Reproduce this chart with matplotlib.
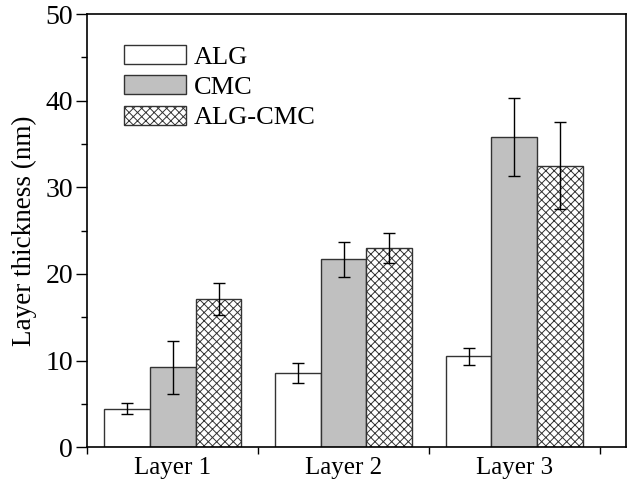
import numpy as np
import matplotlib.pyplot as plt
from matplotlib.ticker import MultipleLocator

# --- data ---
layers = ["Layer 1", "Layer 2", "Layer 3"]
alg = [4.45, 8.6, 10.5]
alg_err = [0.6, 1.15, 1.0]
cmc = [9.2, 21.7, 35.8]
cmc_err = [3.1, 2.0, 4.5]
algcmc = [17.1, 23.0, 32.5]
algcmc_err = [1.85, 1.7, 5.0]

plt.rcParams['font.family'] = ['Liberation Serif', 'DejaVu Serif']
plt.rcParams['hatch.color'] = '#555555'
plt.rcParams['hatch.linewidth'] = 0.7

fig = plt.figure(figsize=(6.3, 4.86), dpi=100)
ax = fig.add_axes([0.138, 0.080, 0.856, 0.891])

x = np.arange(1, len(layers) + 1)
w = 0.268
err_kw = dict(ecolor='black', elinewidth=1.0, capsize=4, capthick=1.0)

ax.bar(x - w, alg, w, yerr=alg_err, color='white', edgecolor='#333333',
       linewidth=1.0, label='ALG', error_kw=err_kw, zorder=2)
ax.bar(x, cmc, w, yerr=cmc_err, color='#c0c0c0', edgecolor='#333333',
       linewidth=1.0, label='CMC', error_kw=err_kw, zorder=2)
ax.bar(x + w, algcmc, w, yerr=algcmc_err, color='white', edgecolor='#333333',
       hatch='xxxx', linewidth=1.0, label='ALG-CMC', error_kw=err_kw, zorder=2)

ax.set_xlim(0.497, 3.655)
ax.set_ylim(0, 50)
ax.set_xticks(x)
ax.set_xticklabels(layers)
ax.set_xticks([0.5, 1.5, 2.5, 3.5], minor=True)
ax.tick_params(axis='x', which='major', length=0, labelsize=18, pad=7)
ax.tick_params(axis='x', which='minor', direction='out', length=5, width=1)
ax.yaxis.set_major_locator(MultipleLocator(10))
ax.yaxis.set_minor_locator(MultipleLocator(5))
ax.tick_params(axis='y', which='major', direction='out', length=8, width=1,
               labelsize=20, pad=2)
ax.tick_params(axis='y', which='minor', direction='out', length=4, width=1)
ax.set_ylabel("Layer thickness (nm)", fontsize=19.5, labelpad=6)

for s in ax.spines.values():
    s.set_linewidth(1.2)

ax.legend(loc='upper left', frameon=False, fontsize=19, handlelength=2.35,
          handleheight=0.75, labelspacing=0.25, handletextpad=0.3,
          borderaxespad=0.3, bbox_to_anchor=(0.035, 0.972))

fig.savefig("out.png", dpi=100)
